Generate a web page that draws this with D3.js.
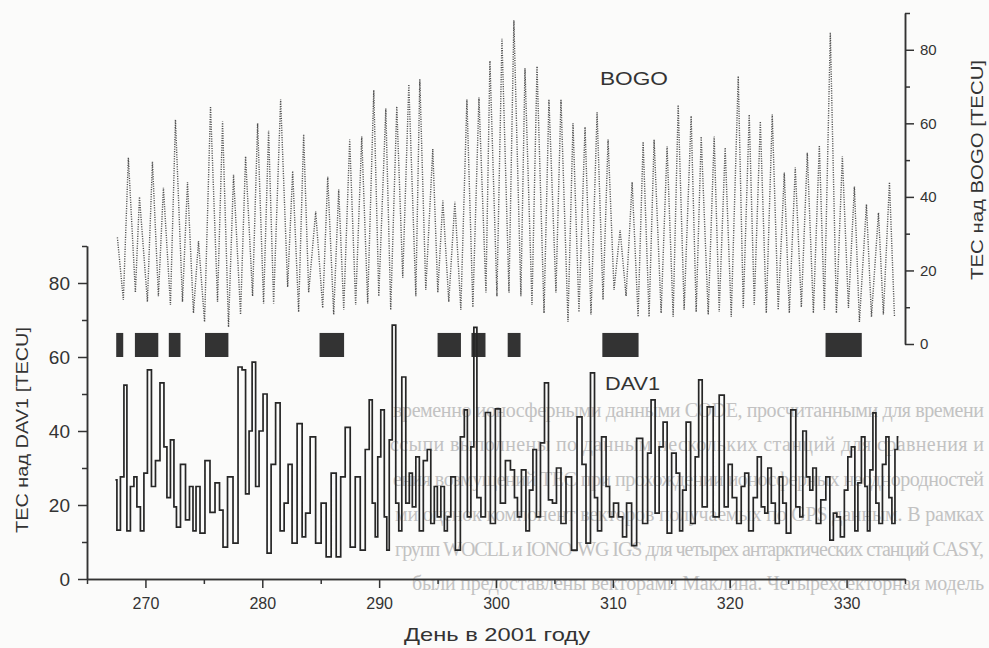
<!DOCTYPE html>
<html>
<head>
<meta charset="utf-8">
<script src="https://cdn.jsdelivr.net/npm/d3@7"></script>
<style>
  html, body { margin: 0; padding: 0; background: #fbfbfa; }
  svg { display: block; }
</style>
</head>
<body>
<svg id="chart" width="989" height="648"></svg>
<script>
// ---- data ---------------------------------------------------------------
// Day of year 2001 (fractional) and TEC value over BOGO [TECU]
const bogoSeries = [
  [267.60,29],[268.11,12],[268.54,50.7],[269.14,14],[269.49,40],[270.17,11.5],[270.60,49.6],
  [271.11,13],[271.54,42.5],[272.14,10.6],[272.57,61],[273.17,11.5],[273.60,44],[274.11,8.4],
  [274.54,28],[275.06,6],[275.57,64.6],[276.17,11.5],[276.60,60.5],[277.11,4.6],[277.54,46],
  [278.14,8],[278.57,51],[279.17,13],[279.60,60],[280.11,11],[280.54,58],[280.97,11],
  [281.57,66.5],[282.17,15.5],[282.60,47],[283.11,8.7],[283.54,57],[283.97,14],[284.57,36],
  [285.17,9.8],[285.60,45.5],[286.11,8],[286.54,42],[286.97,9.3],[287.48,55.6],[287.99,10.6],
  [288.51,56.4],[289.02,11],[289.54,69],[289.97,13],[290.57,64],[290.99,9.3],[291.51,64.6],
  [292.02,18],[292.54,70.6],[293.14,13],[293.48,72],[293.99,14.7],[294.59,53],[295.02,14],
  [295.45,39],[295.96,11.5],[296.48,38.7],[296.99,9.3],[297.51,66.5],[298.02,10],[298.54,67],
  [299.14,14],[299.48,77],[300.08,13],[300.51,83],[301.11,14],[301.53,88],[302.13,13],
  [302.48,75],[303.08,10.6],[303.51,75.5],[304.11,8.4],[304.53,66.5],[305.13,14],[305.56,66.5],
  [306.16,6],[306.59,60],[307.10,8.7],[307.62,59],[308.13,8],[308.65,63],[309.16,12],
  [309.59,55.6],[310.10,14.7],[310.62,31],[311.13,13],[311.65,44],[312.16,7.4],[312.59,55],
  [313.10,7.4],[313.53,55.6],[314.13,8.4],[314.64,53.7],[315.16,7.4],[315.59,65],[316.10,9.3],
  [316.70,62],[317.13,8.7],[317.56,56.4],[318.16,8],[318.67,56.4],[319.10,8.7],[319.61,53.4],
  [320.13,7.4],[320.73,72.8],[321.16,9.8],[321.67,62.4],[322.10,10.6],[322.62,60.5],[323.13,8.4],
  [323.64,62.4],[324.15,9.3],[324.67,46.6],[325.10,8.4],[325.61,48],[326.13,10],[326.64,52],
  [327.16,8.4],[327.67,54],[328.10,9.3],[328.61,84.7],[329.13,8.4],[329.64,51],[330.16,9.8],
  [330.67,42.8],[331.10,6],[331.70,38],[332.13,7.4],[332.73,35.7],[333.15,8],[333.67,44],
  [334.10,7.4]
];

// Day of year 2001 (fractional) and TEC value over DAV1 [TECU]
const davSeries = [
  [267.43,26.8],[267.69,13.2],[268.03,27.6],[268.29,52.4],[268.54,13],[268.89,25],[269.14,27.6],
  [269.40,19.5],[269.74,13],[270.00,28.6],[270.34,56.5],[270.69,25],[271.03,32],[271.46,53],
  [271.71,35.7],[271.97,22],[272.31,37.6],[272.57,19.5],[272.74,14],[273.26,31],[273.60,16],
  [273.94,25],[274.20,13],[274.46,25],[274.88,12.4],[275.31,32],[275.74,18],[276.17,26],
  [276.51,18.6],[276.77,8.6],[277.28,27.6],[277.71,9.7],[278.14,57.3],[278.40,56.5],[278.74,23],
  [279.00,40],[279.26,58.6],[279.60,25],[279.85,40],[280.28,50],[280.54,7],[280.97,31],
  [281.31,47.6],[281.74,13],[282.00,20.5],[282.42,31],[282.68,9.7],[283.28,42],[283.54,11.4],
  [283.88,17.8],[284.31,38.4],[284.82,9.7],[285.25,20.5],[285.68,6],[286.11,28.6],[286.54,6],
  [286.88,27.6],[287.31,41],[287.74,8.6],[288.17,27.6],[288.60,7.8],[289.02,35],[289.28,48.4],
  [289.54,20.5],[289.79,11.4],[289.97,33],[290.31,45.7],[290.57,16.8],[290.74,7.8],[290.99,37.6],
  [291.25,68.6],[291.59,20.5],[291.77,13],[292.11,54.6],[292.45,20.5],[292.71,28.6],[292.97,19.5],
  [293.31,33],[293.57,13],[293.99,32],[294.25,35],[294.59,15],[294.85,25],[295.11,16.8],
  [295.45,25],[295.71,13],[295.96,16.8],[296.31,27.6],[296.74,7.8],[297.16,38.4],[297.42,45.7],
  [297.68,16.8],[298.02,35.7],[298.19,68],[298.54,22],[298.88,16.8],[299.31,45],[299.73,15],
  [300.16,46],[300.59,20.5],[301.02,32],[301.45,29.5],[301.71,22],[301.96,16.8],[302.39,29.5],
  [302.73,13],[302.99,24],[303.33,35],[303.59,16.8],[304.02,36.8],[304.28,53],[304.70,21.4],
  [304.96,20.5],[305.39,30],[305.73,15],[306.25,27.6],[306.68,7.8],[307.19,43.8],[307.53,31],
  [307.87,9.7],[308.30,55.7],[308.56,22],[308.82,13],[309.25,38.4],[309.59,25],[309.85,16.8],
  [310.27,20.5],[310.70,16.8],[310.96,11.4],[311.39,20.5],[311.82,9],[312.25,38],[312.85,15],
  [313.10,34],[313.44,48.4],[313.79,17.8],[314.13,35.7],[314.47,42.4],[314.82,12.4],[315.24,34],
  [315.59,28.6],[315.84,13],[316.10,24],[316.44,42.4],[316.87,15],[317.22,33],[317.47,53.8],
  [317.82,19.5],[318.33,46.5],[318.84,16.8],[319.36,49.7],[319.70,19.5],[320.04,31],[320.39,22],
  [320.81,15],[321.16,25],[321.41,28.6],[321.84,13],[322.19,22],[322.53,33],[322.87,19.5],
  [323.13,17.8],[323.39,30],[323.73,20.5],[324.07,15],[324.41,27.6],[324.67,20.5],[325.01,12.4],
  [325.44,45.7],[325.87,19.5],[326.13,16.8],[326.38,40],[326.73,27.6],[326.98,24],[327.24,30],
  [327.58,15],[328.01,21.4],[328.44,27.6],[328.70,10.5],[329.04,17.8],[329.30,16.8],[329.64,11.4],
  [329.98,24],[330.24,33],[330.58,35.7],[330.84,13],[331.10,26],[331.44,38.4],[331.70,25],
  [331.87,13],[332.13,29.5],[332.38,44.9],[332.64,20.5],[332.90,15],[333.24,31],[333.50,38.4],
  [333.75,22],[334.01,15],[334.27,35],[334.44,38.4]
];

// Disturbed intervals (start day, end day), marked as bars on the DAV1 scale
const stormDays = [
  [267.5,268.1],[269.1,271.1],[272.0,273.0],[275.1,277.1],[284.9,287.0],
  [295.0,297.0],[297.9,299.1],[301.0,302.1],[309.1,312.2],[328.2,331.3]
];
const stormBand = [60, 66.5];

const dayRange   = [265, 335];
const dayMajor   = [270, 280, 290, 300, 310, 320, 330];
const dayMinor   = [265, 275, 285, 295, 305, 315, 325, 335];
const tecRange   = [0, 90];
const tecMajor   = [0, 20, 40, 60, 80];
const tecMinor   = [10, 30, 50, 70, 90];

const labelX     = "День в 2001 году";
const labelLeft  = "TEC над DAV1 [TECU]";
const labelRight = "TEC над BOGO [TECU]";
const nameBogo   = "BOGO";
const nameDav    = "DAV1";

// surrounding page text (printed body of the article)
const pageLines = [
  "временно ионосферными данными CODE, просчитанными для времени",
  "ссыпи выполнены по данным нескольких станций для сравнения и",
  "ения возмущений ТЕС при прохождении ионосферных неоднородностей",
  "ми оценок компонент векторов получаемых по GPS данным. В рамках",
  "групп WOCLL и IONO-WG IGS для четырех антарктических станций CASY,",
  "были предоставлены векторами Маклина. Четырехсекторная модель"
];

// ---- drawing --------------------------------------------------------------
const svg = d3.select("#chart");
const FONT = "'Liberation Sans', Arial, sans-serif";

const x  = d3.scaleLinear().domain(dayRange).range([87, 905]);
const yL = d3.scaleLinear().domain(tecRange).range([579, 246]);
const yR = d3.scaleLinear().domain(tecRange).range([344, 13]);

// faint page text behind the figure
const page = svg.append("g")
  .attr("font-family", "'Liberation Serif', 'DejaVu Serif', serif")
  .attr("font-size", 20)
  .attr("fill", "#c2c2c2");
const pageLayout = [
  {x: 393, y: 417}, {x: 390, y: 451}, {x: 393, y: 486},
  {x: 395, y: 521}, {x: 395, y: 556}, {x: 412, y: 590}
];
pageLines.forEach((t, i) => {
  page.append("text")
    .attr("x", pageLayout[i].x).attr("y", pageLayout[i].y)
    .attr("textLength", 984 - pageLayout[i].x).attr("lengthAdjust", "spacing")
    .text(t);
});

// disturbed-interval bars
svg.append("g").selectAll("rect")
  .data(stormDays).join("rect")
  .attr("x", d => x(d[0]))
  .attr("width", d => x(d[1]) - x(d[0]))
  .attr("y", yL(stormBand[1]))
  .attr("height", yL(stormBand[0]) - yL(stormBand[1]))
  .attr("fill", "#333");

// BOGO: dotted trace on the right scale
svg.append("path")
  .datum(bogoSeries)
  .attr("fill", "none")
  .attr("stroke", "#505050")
  .attr("stroke-width", 1.4)
  .attr("stroke-dasharray", "1.1 1.3")
  .attr("d", d3.line().x(d => x(d[0])).y(d => yR(d[1])));

// DAV1: solid stepped trace on the left scale
svg.append("path")
  .datum(davSeries)
  .attr("fill", "none")
  .attr("stroke", "#262626")
  .attr("stroke-width", 1.7)
  .attr("stroke-linejoin", "miter")
  .attr("d", d3.line().curve(d3.curveStep).x(d => x(d[0])).y(d => yL(d[1])));

// axes
function styleAxis(g, size) {
  g.selectAll("path, line").attr("stroke", "#333").attr("stroke-width", 1.5);
  g.selectAll("text").attr("fill", "#333").attr("font-family", FONT).attr("font-size", size);
}

const gLeft = svg.append("g").attr("transform", "translate(87,0)");
gLeft.call(d3.axisLeft(yL).tickValues(tecMinor).tickSize(5).tickSizeOuter(0).tickFormat(""));
gLeft.append("g").call(d3.axisLeft(yL).tickValues(tecMajor).tickSize(9).tickSizeOuter(0).tickPadding(8));
styleAxis(gLeft, 19);

const gBottom = svg.append("g").attr("transform", "translate(0,579)");
gBottom.call(d3.axisBottom(x).tickValues(dayMinor).tickSize(5).tickSizeOuter(0).tickFormat(""));
gBottom.append("g").call(d3.axisBottom(x).tickValues(dayMajor).tickSize(9).tickSizeOuter(0).tickPadding(10));
styleAxis(gBottom, 16);

const gRight = svg.append("g").attr("transform", "translate(905,0)");
gRight.call(d3.axisRight(yR).tickValues(tecMinor).tickSize(5).tickSizeOuter(0).tickFormat(""));
gRight.append("g").call(d3.axisRight(yR).tickValues(tecMajor).tickSize(9).tickSizeOuter(0).tickPadding(6));
styleAxis(gRight, 15);

// titles and series names
const txt = svg.append("g").attr("font-family", FONT).attr("fill", "#333");
txt.append("text").attr("x", 404).attr("y", 641)
  .attr("font-size", 19).attr("textLength", 186).attr("lengthAdjust", "spacingAndGlyphs")
  .text(labelX);
txt.append("text").attr("transform", "translate(28,430) rotate(-90)")
  .attr("text-anchor", "middle").attr("font-size", 17)
  .attr("textLength", 206).attr("lengthAdjust", "spacingAndGlyphs")
  .text(labelLeft);
txt.append("text").attr("transform", "translate(983,170) rotate(-90)")
  .attr("text-anchor", "middle").attr("font-size", 17)
  .attr("textLength", 220).attr("lengthAdjust", "spacingAndGlyphs")
  .text(labelRight);
txt.append("text").attr("x", 600).attr("y", 85)
  .attr("font-size", 19).attr("textLength", 68).attr("lengthAdjust", "spacingAndGlyphs")
  .text(nameBogo);
txt.append("text").attr("x", 605).attr("y", 390)
  .attr("font-size", 19).attr("textLength", 55).attr("lengthAdjust", "spacingAndGlyphs")
  .text(nameDav);
</script>
</body>
</html>
